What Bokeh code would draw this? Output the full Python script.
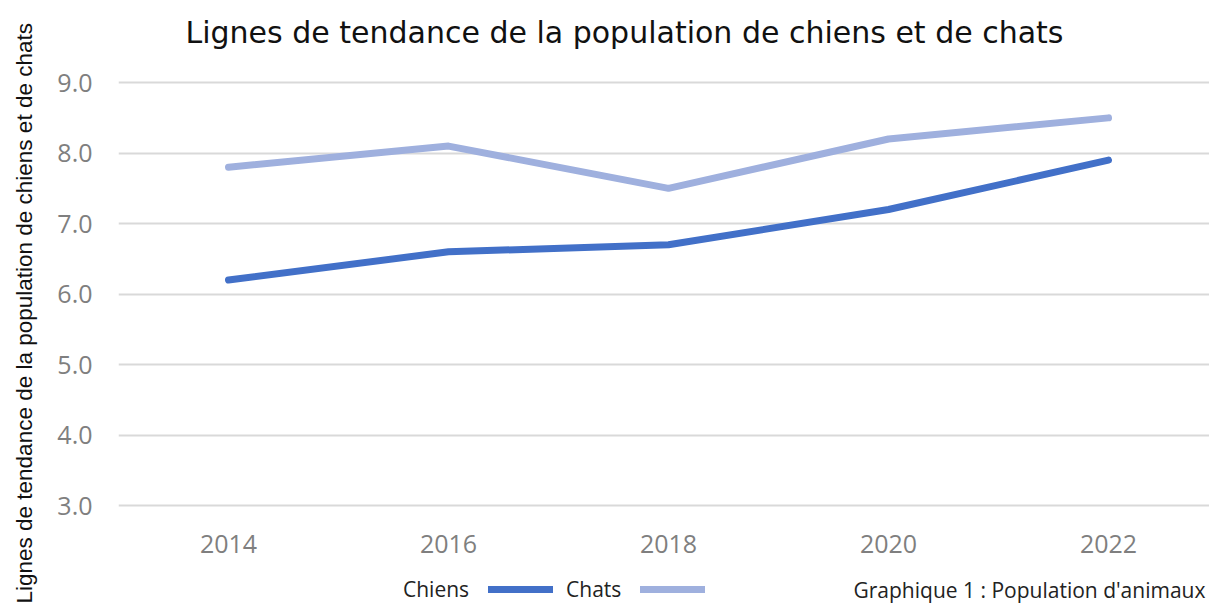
import math
from bokeh.plotting import figure
from bokeh.layouts import column, row
from bokeh.models import (Range1d, FixedTicker, NumeralTickFormatter, Legend, LegendItem,
                          Label, ColumnDataSource)
from bokeh.embed import file_html
from bokeh.resources import INLINE

years = [2014, 2016, 2018, 2020, 2022]
chiens = [6.2, 6.6, 6.7, 7.2, 7.9]
chats = [7.8, 8.1, 7.5, 8.2, 8.5]
y_ticks = [3, 4, 5, 6, 7, 8, 9]

title = "Lignes de tendance de la population de chiens et de chats"
y_label = "Lignes de tendance de la population de chiens et de chats"
caption = "Graphique 1 : Population d'animaux"

DARK = "#4270c8"
LIGHT = "#9fb0de"
GRID = "#d9d9d9"
TICK = "#7f7f7f"

# strip holding the vertical axis title
lab = figure(width=44, height=603, output_backend="svg", toolbar_location=None,
             x_range=Range1d(0, 1), y_range=Range1d(0, 1), x_axis_type=None, y_axis_type=None,
             min_border=0)
lab.outline_line_color = None
lab.grid.grid_line_color = None
lab.add_layout(Label(x=24, y=0, x_units="screen", y_units="screen", text=y_label,
                     angle=math.pi / 2, text_font="Liberation Sans", text_font_size="22.5px",
                     text_color="#111111", text_baseline="alphabetic", text_align="left"))

p = figure(width=1165, height=565, output_backend="svg", toolbar_location=None,
           x_range=Range1d(2013, 2022.918), y_range=Range1d(2.788, 9.3),
           min_border_left=74, min_border_right=0, min_border_top=60, min_border_bottom=45)

p.title.text = title
p.title.text_font = "DejaVu Sans"
p.title.text_font_size = "30px"
p.title.text_font_style = "normal"
p.title.text_color = "#111111"
p.title.align = "left"
p.title.offset = 67
p.title.standoff = 24

p.outline_line_color = None
p.xgrid.grid_line_color = None
p.ygrid.grid_line_color = GRID
p.ygrid.grid_line_width = 2
p.ygrid.ticker = FixedTicker(ticks=y_ticks)

p.yaxis.ticker = FixedTicker(ticks=y_ticks)
p.yaxis.formatter = NumeralTickFormatter(format="0.0")
p.xaxis.ticker = FixedTicker(ticks=years)
for ax in (p.xaxis[0], p.yaxis[0]):
    ax.axis_line_color = None
    ax.major_tick_line_color = None
    ax.minor_tick_line_color = None
    ax.major_label_text_font = "Open Sans"
    ax.major_label_text_font_size = "25px"
    ax.major_label_text_color = TICK
p.yaxis.major_label_standoff = 20
p.xaxis.major_label_standoff = 8

src = ColumnDataSource(dict(x=years, chiens=chiens, chats=chats))
p.line("x", "chiens", source=src, line_color=DARK, line_width=7,
       line_cap="round", line_join="round")
p.line("x", "chats", source=src, line_color=LIGHT, line_width=7,
       line_cap="round", line_join="round")

# legend / caption strip (its series lie outside its ranges; only the legend shows)
q = figure(width=1165, height=38, output_backend="svg", toolbar_location=None,
           x_range=Range1d(0, 1), y_range=Range1d(0, 1), x_axis_type=None, y_axis_type=None,
           min_border=0)
q.outline_line_color = None
q.grid.grid_line_color = None
q_blank = q.line(years, chiens, line_alpha=0)
q_dark = q.line(years, chiens, line_color=DARK, line_width=7, line_cap="round")
q_light = q.line(years, chats, line_color=LIGHT, line_width=7, line_cap="round")

legend = Legend(items=[LegendItem(label="Chiens", renderers=[q_blank]),
                       LegendItem(label="Chats", renderers=[q_dark]),
                       LegendItem(label="", renderers=[q_light])],
                orientation="horizontal", location=(207, 0),
                glyph_width=65, glyph_height=20, label_standoff=13, spacing=19,
                label_height=20,
                padding=0, margin=0, border_line_color=None, background_fill_alpha=0,
                label_text_font="Open Sans", label_text_font_size="21px",
                label_text_color="#222222")
q.add_layout(legend)
q.add_layout(Label(x=735, y=14, x_units="screen", y_units="screen", text=caption,
                   text_font="Open Sans", text_font_size="21px", text_color="#222222",
                   text_baseline="middle"))

layout = row(lab, column(p, q, spacing=0), spacing=0)
open("out.html", "w").write(file_html(layout, INLINE))
